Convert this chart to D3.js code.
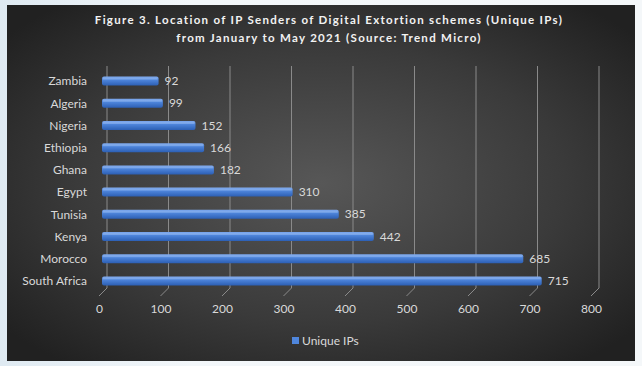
<!DOCTYPE html>
<html><head><meta charset="utf-8">
<script src="https://cdn.jsdelivr.net/npm/d3@7"></script>
<style>
html,body{margin:0;padding:0;background:#f2f6f9;}
svg{display:block;}
</style></head>
<body>
<svg id="chart" width="642" height="366"></svg>
<script>
const categories = ["Zambia","Algeria","Nigeria","Ethiopia","Ghana","Egypt","Tunisia","Kenya","Morocco","South Africa"];
const values = [92,99,152,166,182,310,385,442,685,715];
const xTicks = [0,100,200,300,400,500,600,700,800];
const seriesName = "Unique IPs";
const titleLines = ["Figure 3. Location of IP Senders of Digital Extortion schemes (Unique IPs)","from January to May 2021 (Source: Trend Micro)"];

const svg = d3.select("#chart");
const defs = svg.append("defs");

const pg = defs.append("linearGradient").attr("id","pg").attr("x1",0).attr("x2",1).attr("y1",0).attr("y2",0);
pg.append("stop").attr("offset","0%").attr("stop-color","#dfeaf2");
pg.append("stop").attr("offset","30%").attr("stop-color","#f3f7fa");
pg.append("stop").attr("offset","100%").attr("stop-color","#f4f7f9");
svg.append("rect").attr("width",642).attr("height",366).attr("fill","url(#pg)");

const rg = defs.append("radialGradient").attr("id","bg").attr("cx","50%").attr("cy","50%").attr("r","65%");
rg.append("stop").attr("offset","0%").attr("stop-color","#575757");
rg.append("stop").attr("offset","60%").attr("stop-color","#3a3a3a");
rg.append("stop").attr("offset","100%").attr("stop-color","#212121");
svg.append("rect").attr("x",7).attr("y",5).attr("width",628).attr("height",356).attr("fill","url(#bg)");

const bg = defs.append("linearGradient").attr("id","bar").attr("x1",0).attr("x2",0).attr("y1",0).attr("y2",1);
bg.append("stop").attr("offset","0%").attr("stop-color","#80aaee");
bg.append("stop").attr("offset","35%").attr("stop-color","#4f86dc");
bg.append("stop").attr("offset","100%").attr("stop-color","#2c5fb4");

const x = d3.scaleLinear().domain([0,800]).range([102,594]);
const y = d3.scalePoint().domain(categories).range([70,292]).padding(0.5);
const barH = 9;
const FONT = "Lato, 'Open Sans', sans-serif";

const title = svg.append("text").attr("text-anchor","middle")
  .attr("font-family",FONT).attr("font-weight","bold")
  .attr("font-size",11.5).attr("letter-spacing","1.3px").attr("fill","#f2f2f2");
titleLines.forEach((t,i)=>{
  title.append("tspan").attr("x",329).attr("y",24+i*18).text(t);
});

const grid = svg.append("g").attr("stroke","#8a8a8a").attr("stroke-width",1).attr("fill","none");
xTicks.forEach(v=>{
  const xb = x(v)+5;
  grid.append("path").attr("d",`M${xb},66 L${xb},288 L${x(v)-3},296`);
});

const bars = svg.append("g");
categories.forEach((c,i)=>{
  const yc = y(c);
  const w = x(values[i]) - x(0);
  bars.append("rect").attr("x",x(0)).attr("y",yc-barH/2).attr("width",w).attr("height",barH)
    .attr("rx",2).attr("fill","url(#bar)");
  bars.append("rect").attr("x",x(0)+1).attr("y",yc-barH/2+1).attr("width",w-2).attr("height",2)
    .attr("fill","#9fc0f4").attr("opacity",0.45);
  svg.append("text").attr("x",x(values[i])+6).attr("y",yc+4)
    .attr("font-family",FONT).attr("font-size",12).attr("fill","#d9d9d9")
    .text(values[i]);
});

const yAxis = svg.append("g").attr("transform","translate(90,0)")
  .call(d3.axisLeft(y).tickSize(0).tickPadding(3));
yAxis.select(".domain").remove();
yAxis.selectAll("text").attr("font-family",FONT).attr("font-size",12).attr("fill","#d9d9d9");

const xAxis = svg.append("g").attr("transform","translate(-3,300)")
  .call(d3.axisBottom(x).tickValues(xTicks).tickSize(0).tickPadding(4));
xAxis.select(".domain").remove();
xAxis.selectAll("text").attr("font-family",FONT).attr("font-size",12).attr("fill","#d9d9d9");

svg.append("rect").attr("x",292).attr("y",337).attr("width",7).attr("height",7).attr("fill","#4f86dc");
svg.append("text").attr("x",302).attr("y",345)
  .attr("font-family",FONT).attr("font-size",12).attr("fill","#d9d9d9").text(seriesName);
</script>
</body></html>
